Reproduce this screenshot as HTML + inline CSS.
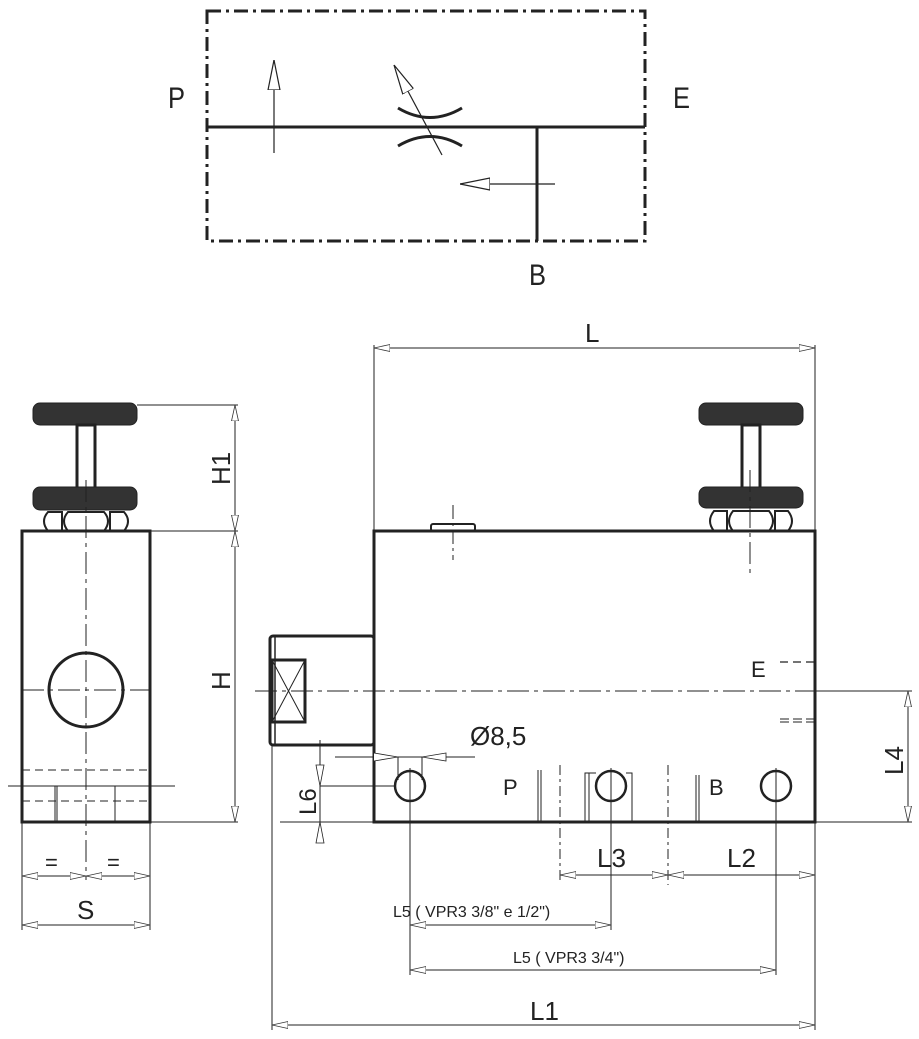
<!DOCTYPE html>
<html><head><meta charset="utf-8"><style>
html,body{margin:0;padding:0;background:#fff}
svg{display:block}
text{font-family:"Liberation Sans",sans-serif;fill:#222}
</style></head><body>
<svg width="919" height="1039" viewBox="0 0 919 1039" xmlns="http://www.w3.org/2000/svg">
<defs>
<marker id="a" viewBox="0 0 16 8" refX="16" refY="4" markerWidth="16" markerHeight="8" markerUnits="userSpaceOnUse" orient="auto-start-reverse"><path d="M0,0.5 L16,4 L0,7.5 Z" fill="#fff" stroke="#333" stroke-width="0.8"/></marker>
<marker id="b" viewBox="0 0 30 14" refX="30" refY="7" markerWidth="30" markerHeight="14" markerUnits="userSpaceOnUse" orient="auto"><path d="M0,1 L30,7 L0,13 Z" fill="#fff" stroke="#222" stroke-width="1.2"/></marker>
</defs>
<rect x="207" y="11" width="438" height="230" fill="none" stroke="#222" stroke-width="3" stroke-dasharray="14,5,3,5"/>
<line x1="207" y1="127" x2="645" y2="127" stroke="#222" stroke-width="3"/>
<line x1="537" y1="127" x2="537" y2="241" stroke="#222" stroke-width="3"/>
<line x1="274" y1="153" x2="274" y2="60" stroke="#222" stroke-width="1.2" marker-end="url(#b)"/>
<line x1="555" y1="184" x2="460" y2="184" stroke="#222" stroke-width="1.2" marker-end="url(#b)"/>
<path d="M398,108 Q430,127 462,108" fill="none" stroke="#222" stroke-width="3"/>
<path d="M398,146 Q430,127 462,146" fill="none" stroke="#222" stroke-width="3"/>
<line x1="442" y1="155" x2="394" y2="65" stroke="#222" stroke-width="1.2" marker-end="url(#b)"/>
<text x="168" y="108" font-size="30" transform="translate(168,0) scale(0.85,1) translate(-168,0)">P</text>
<text x="673" y="108" font-size="30" transform="translate(673,0) scale(0.85,1) translate(-673,0)">E</text>
<text x="529" y="285" font-size="30" transform="translate(529,0) scale(0.85,1) translate(-529,0)">B</text>
<g stroke="#222" fill="none">
<rect x="22" y="531" width="128" height="291" stroke-width="3"/>
<rect x="33" y="403" width="104" height="22" rx="7" fill="#333" stroke-width="1"/>
<rect x="77" y="425" width="18" height="64" stroke-width="3"/>
<rect x="33" y="487" width="104" height="23" rx="7" fill="#333" stroke-width="1"/>
<path d="M48,512 H62 V531 H48 Q40,521 48,512 Z M68,512 H104 Q112,521 104,531 H68 Q60,521 68,512 Z M110,512 H124 Q132,521 124,531 H110 Z" stroke-width="2"/>
<circle cx="86" cy="690" r="37" stroke-width="3"/>
<line x1="86" y1="480" x2="86" y2="880" stroke-width="1" stroke-dasharray="22,5,4,5"/>
<line x1="22" y1="690" x2="150" y2="690" stroke-width="1" stroke-dasharray="22,5,4,5"/>
<line x1="22" y1="770" x2="150" y2="770" stroke-width="1" stroke-dasharray="8,5"/>
<line x1="22" y1="801" x2="150" y2="801" stroke-width="1" stroke-dasharray="8,5"/>
<line x1="8" y1="786" x2="175" y2="786" stroke-width="1"/>
<line x1="55" y1="786" x2="55" y2="822" stroke-width="1"/><line x1="57" y1="786" x2="57" y2="822" stroke-width="1"/>
<path d="M115,822 V786 H125" stroke-width="1"/>
<line x1="137" y1="405" x2="238" y2="405" stroke-width="1"/>
<line x1="150" y1="531" x2="238" y2="531" stroke-width="1"/>
<line x1="150" y1="822" x2="238" y2="822" stroke-width="1"/>
<line x1="235" y1="405" x2="235" y2="531" stroke-width="1" marker-start="url(#a)" marker-end="url(#a)"/>
<line x1="235" y1="531" x2="235" y2="822" stroke-width="1" marker-start="url(#a)" marker-end="url(#a)"/>
<line x1="22" y1="822" x2="22" y2="930" stroke-width="1"/>
<line x1="150" y1="822" x2="150" y2="930" stroke-width="1"/>
<line x1="22" y1="876" x2="86" y2="876" stroke-width="1" marker-start="url(#a)" marker-end="url(#a)"/>
<line x1="86" y1="876" x2="150" y2="876" stroke-width="1" marker-start="url(#a)" marker-end="url(#a)"/>
<line x1="22" y1="925" x2="150" y2="925" stroke-width="1" marker-start="url(#a)" marker-end="url(#a)"/>
</g>
<text font-size="26" transform="translate(230,485) rotate(-90)">H1</text>
<text font-size="26" transform="translate(230,690) rotate(-90)">H</text>
<text x="45" y="870" font-size="22">=</text>
<text x="107" y="870" font-size="22">=</text>
<text x="77" y="919" font-size="26">S</text>
<g stroke="#222" fill="none">
<rect x="374" y="531" width="441" height="291" stroke-width="3"/>
<rect x="431" y="524" width="44" height="7" rx="2" stroke-width="2"/>
<line x1="453" y1="505" x2="453" y2="560" stroke-width="1" stroke-dasharray="14,4,3,4"/>
<rect x="270" y="636" width="104" height="109" rx="3" stroke-width="3"/>
<line x1="275" y1="636" x2="275" y2="745" stroke-width="1.5"/>
<rect x="272" y="660" width="33" height="62" stroke-width="3"/>
<path d="M272,660 L305,722 M305,660 L272,722" stroke-width="1"/>
<rect x="699" y="403" width="104" height="22" rx="7" fill="#333" stroke-width="1"/>
<rect x="742" y="425" width="18" height="64" stroke-width="3"/>
<rect x="699" y="487" width="104" height="21" rx="7" fill="#333" stroke-width="1"/>
<path d="M714,511 H727 V531 H714 Q706,521 714,511 Z M733,511 H769 Q777,521 769,531 H733 Q725,521 733,511 Z M775,511 H788 Q796,521 788,531 H775 Z" stroke-width="2"/>
<line x1="750" y1="470" x2="750" y2="578" stroke-width="1" stroke-dasharray="22,5,4,5"/>
<line x1="255" y1="691" x2="910" y2="691" stroke-width="1" stroke-dasharray="22,5,4,5"/>
<line x1="780" y1="662" x2="815" y2="662" stroke-width="1.2" stroke-dasharray="8,5"/>
<line x1="780" y1="719" x2="815" y2="719" stroke-width="1" stroke-dasharray="9,4"/>
<line x1="780" y1="722" x2="815" y2="722" stroke-width="1" stroke-dasharray="9,4"/>
<circle cx="410" cy="786" r="15" stroke-width="2.5"/>
<circle cx="611" cy="786" r="15" stroke-width="2.5"/>
<circle cx="776" cy="786" r="15" stroke-width="2.5"/>
<line x1="410" y1="768" x2="410" y2="975" stroke-width="1"/>
<line x1="611" y1="768" x2="611" y2="930" stroke-width="1"/>
<line x1="776" y1="768" x2="776" y2="975" stroke-width="1"/>
<line x1="538" y1="770" x2="538" y2="822" stroke-width="1"/><line x1="541" y1="770" x2="541" y2="822" stroke-width="1"/>
<line x1="560" y1="765" x2="560" y2="880" stroke-width="1" stroke-dasharray="10,4,3,4"/>
<line x1="668" y1="765" x2="668" y2="885" stroke-width="1" stroke-dasharray="10,4,3,4"/>
<path d="M585,822 V773 H596 M626,773 H632 V822 M589,822 V773" stroke-width="1"/>
<line x1="696" y1="775" x2="696" y2="822" stroke-width="1"/><line x1="699" y1="775" x2="699" y2="822" stroke-width="1"/>
<line x1="374" y1="345" x2="374" y2="531" stroke-width="1"/>
<line x1="815" y1="345" x2="815" y2="531" stroke-width="1"/>
<line x1="374" y1="348" x2="815" y2="348" stroke-width="1" marker-start="url(#a)" marker-end="url(#a)"/>
<line x1="272" y1="745" x2="272" y2="1030" stroke-width="1"/>
<line x1="815" y1="822" x2="815" y2="1030" stroke-width="1"/>
<line x1="272" y1="1025" x2="815" y2="1025" stroke-width="1" marker-start="url(#a)" marker-end="url(#a)"/>
<line x1="815" y1="691" x2="912" y2="691" stroke-width="1"/>
<line x1="815" y1="822" x2="912" y2="822" stroke-width="1"/>
<line x1="908" y1="691" x2="908" y2="822" stroke-width="1" marker-start="url(#a)" marker-end="url(#a)"/>
<line x1="320" y1="740" x2="320" y2="835" stroke-width="1"/>
<path d="M316,765 L320,786 L324,765 Z M316,843 L320,822 L324,843 Z" fill="#fff" stroke-width="0.8"/>
<line x1="320" y1="786" x2="395" y2="786" stroke-width="1"/>
<line x1="815" y1="822" x2="280" y2="822" stroke-width="1"/>
<line x1="335" y1="757" x2="475" y2="757" stroke-width="1"/>
<path d="M374,753 L398,757 L374,761" fill="#fff" stroke-width="0.8"/>
<path d="M446,753 L422,757 L446,761 Z" fill="#fff" stroke-width="0.8"/>
<line x1="398" y1="757" x2="398" y2="780" stroke-width="1"/>
<line x1="422" y1="757" x2="422" y2="780" stroke-width="1"/>
<line x1="560" y1="875" x2="668" y2="875" stroke-width="1" marker-start="url(#a)" marker-end="url(#a)"/>
<line x1="668" y1="875" x2="815" y2="875" stroke-width="1" marker-start="url(#a)" marker-end="url(#a)"/>
<line x1="410" y1="925" x2="611" y2="925" stroke-width="1" marker-start="url(#a)" marker-end="url(#a)"/>
<line x1="410" y1="970" x2="776" y2="970" stroke-width="1" marker-start="url(#a)" marker-end="url(#a)"/>
</g>
<text x="585" y="342" font-size="26">L</text>
<text x="751" y="677" font-size="22">E</text>
<text x="470" y="745" font-size="26">Ø8,5</text>
<text x="503" y="795" font-size="22">P</text>
<text x="709" y="795" font-size="22">B</text>
<text font-size="26" transform="translate(903,775) rotate(-90)">L4</text>
<text font-size="24" transform="translate(316,815) rotate(-90)">L6</text>
<text x="597" y="867" font-size="26">L3</text>
<text x="727" y="867" font-size="26">L2</text>
<text x="393" y="917" font-size="16">L5 ( VPR3 3/8" e 1/2")</text>
<text x="513" y="963" font-size="16">L5 ( VPR3 3/4")</text>
<text x="530" y="1020" font-size="26">L1</text>
</svg>
</body></html>
